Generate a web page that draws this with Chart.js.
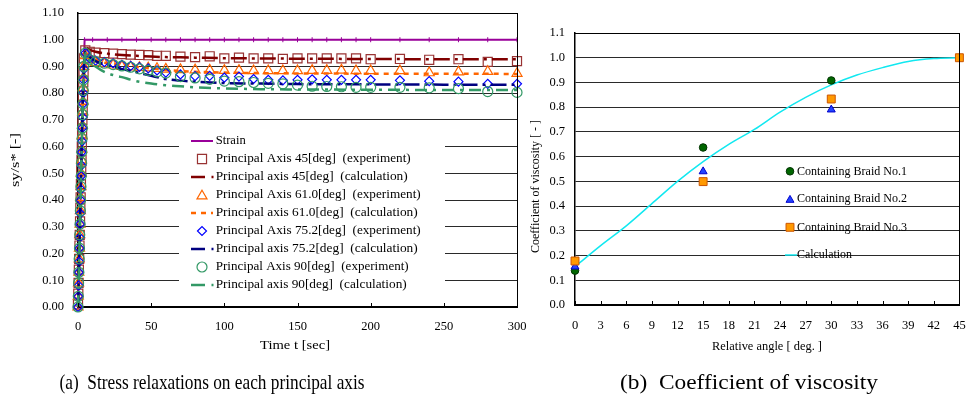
<!DOCTYPE html>
<html><head><meta charset="utf-8">
<script src="https://cdn.jsdelivr.net/npm/chart.js@4/dist/chart.umd.min.js"></script>
<style>
html,body{margin:0;padding:0;background:#fff;width:966px;height:396px;overflow:hidden;}
#c1{position:absolute;left:0;top:0;}
#c2{position:absolute;left:520px;top:0;}
</style></head><body>
<canvas id="c1" width="540" height="396"></canvas>
<canvas id="c2" width="446" height="396"></canvas>
<script>
// ---------------- (a) Stress relaxation data ----------------
const xTicksA = [0, 50, 100, 150, 200, 250, 300];
const strainT = [0, 4.5, 10, 20, 30, 40, 50, 60, 70, 80, 90, 100, 110, 120, 130, 140, 150, 160, 170, 180, 190, 200, 220, 240, 260, 280, 300];
const strainV = [0, 1, 1, 1, 1, 1, 1, 1, 1, 1, 1, 1, 1, 1, 1, 1, 1, 1, 1, 1, 1, 1, 1, 1, 1, 1, 1];

const expT = [0, 0.2, 0.4, 0.6, 0.8, 1.0, 1.2, 1.4, 1.6, 1.8, 2.0, 2.2, 2.4, 2.6, 2.8, 3.0, 3.2, 3.4, 3.6, 3.8, 4.0,
              5, 8, 12, 18, 24, 30, 36, 42, 48, 54, 60, 70, 80, 90, 100, 110, 120, 130, 140, 150, 160, 170, 180, 190, 200, 220, 240, 260, 280, 300];
const exp45 = [0.01, 0.05, 0.09, 0.14, 0.18, 0.23, 0.27, 0.32, 0.37, 0.41, 0.46, 0.51, 0.55, 0.60, 0.65, 0.70, 0.74, 0.79, 0.84, 0.88, 0.93,
               0.96, 0.955, 0.952, 0.95, 0.948, 0.946, 0.944, 0.943, 0.942, 0.94, 0.94, 0.937, 0.935, 0.938, 0.93, 0.933, 0.93, 0.93, 0.928, 0.93, 0.93, 0.93, 0.93, 0.93, 0.927, 0.928, 0.925, 0.927, 0.917, 0.92];
const exp61 = [0.0, 0.04, 0.09, 0.13, 0.18, 0.22, 0.27, 0.31, 0.36, 0.41, 0.45, 0.50, 0.55, 0.59, 0.64, 0.68, 0.73, 0.77, 0.82, 0.86, 0.90,
               0.94, 0.925, 0.915, 0.91, 0.905, 0.90, 0.898, 0.896, 0.894, 0.892, 0.89, 0.888, 0.887, 0.886, 0.885, 0.885, 0.884, 0.884, 0.884, 0.884, 0.885, 0.885, 0.886, 0.884, 0.884, 0.884, 0.876, 0.879, 0.881, 0.874];
const exp75 = [0.0, 0.04, 0.08, 0.13, 0.17, 0.22, 0.26, 0.31, 0.35, 0.40, 0.44, 0.49, 0.53, 0.58, 0.62, 0.67, 0.71, 0.76, 0.80, 0.85, 0.89,
               0.95, 0.93, 0.922, 0.916, 0.912, 0.906, 0.902, 0.898, 0.893, 0.885, 0.877, 0.87, 0.864, 0.865, 0.858, 0.862, 0.853, 0.85, 0.848, 0.85, 0.852, 0.85, 0.85, 0.85, 0.85, 0.848, 0.845, 0.843, 0.835, 0.835];
const exp90 = [0.0, 0.04, 0.09, 0.13, 0.18, 0.22, 0.27, 0.31, 0.36, 0.40, 0.45, 0.49, 0.54, 0.58, 0.63, 0.67, 0.72, 0.76, 0.81, 0.85, 0.90,
               0.95, 0.925, 0.918, 0.912, 0.907, 0.902, 0.897, 0.891, 0.885, 0.88, 0.875, 0.862, 0.857, 0.852, 0.845, 0.843, 0.84, 0.837, 0.835, 0.83, 0.826, 0.825, 0.824, 0.822, 0.822, 0.822, 0.82, 0.817, 0.806, 0.803];

const calcT = [0, 5, 8, 12, 20, 30, 40, 50, 60, 70, 80, 100, 125, 150, 200, 250, 300];
const calc45 = [0, 0.97, 0.962, 0.955, 0.948, 0.943, 0.94, 0.937, 0.935, 0.934, 0.933, 0.931, 0.93, 0.929, 0.928, 0.927, 0.927];
const calc61 = [0, 0.96, 0.94, 0.925, 0.912, 0.905, 0.898, 0.892, 0.887, 0.883, 0.88, 0.877, 0.875, 0.874, 0.873, 0.873, 0.872];
const calc75 = [0, 0.955, 0.935, 0.92, 0.905, 0.89, 0.878, 0.865, 0.853, 0.847, 0.843, 0.838, 0.836, 0.834, 0.833, 0.832, 0.832];
const calc90 = [0, 0.95, 0.92, 0.90, 0.875, 0.86, 0.845, 0.836, 0.83, 0.826, 0.822, 0.818, 0.815, 0.814, 0.813, 0.812, 0.812];

const legendA = ["Strain",
  "Principal Axis 45[deg]  (experiment)", "Principal axis 45[deg]  (calculation)",
  "Principal Axis 61.0[deg]  (experiment)", "Principal axis 61.0[deg]  (calculation)",
  "Principal Axis 75.2[deg]  (experiment)", "Principal axis 75.2[deg]  (calculation)",
  "Principal Axis 90[deg]  (experiment)", "Principal axis 90[deg]  (calculation)"];

// ---------------- (b) Coefficient of viscosity data ----------------
const angleB1 = [0, 15, 30];
const braid1 = [0.139, 0.637, 0.908];
const angleB2 = [0, 15, 30];
const braid2 = [0.155, 0.54, 0.79];
const angleB3 = [0, 15, 30, 45];
const braid3 = [0.178, 0.499, 0.833, 1.0];
const calcAngle = [0, 3, 6, 9, 12, 15, 18, 21, 24, 27, 30, 33, 36, 39, 42, 45];
const calcVisc = [0.155, 0.24, 0.32, 0.41, 0.50, 0.58, 0.65, 0.71, 0.78, 0.84, 0.89, 0.93, 0.96, 0.985, 0.997, 1.0];
const legendB = ["Containing Braid No.1", "Containing Braid No.2", "Containing Braid No.3", "Calculation"];

// ---------------- helpers ----------------
const SERIF = '"Liberation Serif", "Times New Roman", Times, serif';
Chart.defaults.font.family = SERIF;
Chart.defaults.color = '#000';
const pts = (xs, ys) => xs.map((x, i) => ({x: x, y: ys[i]}));

function txt(ctx, s, x, y, o) {
  ctx.save();
  ctx.font = (o.size || 12) + 'px ' + SERIF;
  ctx.fillStyle = o.color || '#000';
  ctx.textBaseline = o.baseline || 'middle';
  ctx.textAlign = 'left';
  ctx.translate(x, y);
  if (o.rot) ctx.rotate(o.rot);
  const w = ctx.measureText(s).width;
  const sx = o.width ? o.width / w : 1;
  ctx.scale(sx, 1);
  const a = o.align || 'center';
  const dx = a === 'center' ? -w / 2 : (a === 'right' ? -w : 0);
  ctx.fillText(s, dx, 0);
  ctx.restore();
}
function marker(ctx, style, r, x, y, stroke, fill, bw, rot) {
  ctx.save();
  ctx.strokeStyle = stroke; ctx.fillStyle = fill || 'rgba(0,0,0,0)'; ctx.lineWidth = bw;
  Chart.helpers.drawPoint(ctx, {pointStyle: style, radius: r, rotation: rot || 0, borderWidth: bw}, x, y);
  ctx.restore();
}
function seg(ctx, x1, x2, y, color, w, dash) {
  ctx.save(); ctx.strokeStyle = color; ctx.lineWidth = w; ctx.setLineDash(dash || []);
  ctx.beginPath(); ctx.moveTo(x1, y); ctx.lineTo(x2, y); ctx.stroke(); ctx.restore();
}
function tickMarks(chart, len) {
  const ctx = chart.ctx, xs = chart.scales.x, a = chart.chartArea;
  ctx.save(); ctx.strokeStyle = '#000'; ctx.lineWidth = 1;
  xs.ticks.forEach(t => {
    const px = Math.round(xs.getPixelForValue(t.value)) + 0.5;
    ctx.beginPath(); ctx.moveTo(px, a.bottom); ctx.lineTo(px, a.bottom - len); ctx.stroke();
  });
  ctx.restore();
}
function frame(chart) {
  const ctx = chart.ctx, a = chart.chartArea;
  ctx.save(); ctx.strokeStyle = '#000'; ctx.lineWidth = 1;
  ctx.beginPath();
  ctx.moveTo(a.left, Math.round(a.top) + 0.5); ctx.lineTo(a.right, Math.round(a.top) + 0.5);
  ctx.moveTo(Math.round(a.right) + 0.5, a.top); ctx.lineTo(Math.round(a.right) + 0.5, a.bottom);
  ctx.stroke(); ctx.restore();
}

const C = {strain: '#990099', sq: '#993333', c45: '#800000', tri: '#FF6600', c61: '#FF6600',
           dia: '#0000FF', c75: '#000080', cir: '#339966', c90: '#339966'};
const dashDot = [16, 5, 3, 5];

// ---------------- chart (a) ----------------
const decorA = {
  id: 'decorA',
  afterDatasetsDraw(chart) {
    const ctx = chart.ctx;
    ctx.save(); ctx.fillStyle = '#fff'; ctx.fillRect(179, 128, 266, 171); ctx.restore();
    const rows = [141, 159, 177, 195, 213, 231, 249, 267, 285];
    const widths = [30, 195, 192, 205, 202, 205, 202, 193, 191];
    const cx = 202;
    seg(ctx, 191, 213, rows[0], C.strain, 2);
    marker(ctx, 'rect', 6.4, cx, rows[1], C.sq, null, 1.2);
    seg(ctx, 191, 205, rows[2], C.c45, 2.5); seg(ctx, 211.5, 213.5, rows[2], C.c45, 2.5);
    marker(ctx, 'triangle', 5.8, cx, rows[3] + 1, C.tri, null, 1.2);
    seg(ctx, 191, 213, rows[4], C.c61, 2.5, [5, 5]);
    marker(ctx, 'rectRot', 4.5, cx, rows[5], C.dia, null, 1.2);
    seg(ctx, 191, 205, rows[6], C.c75, 2.5); seg(ctx, 211.5, 213.5, rows[6], C.c75, 2.5);
    marker(ctx, 'circle', 5, cx, rows[7], C.cir, null, 1.2);
    seg(ctx, 191, 205, rows[8], C.c90, 2.5); seg(ctx, 211.5, 213.5, rows[8], C.c90, 2.5);
    legendA.forEach((s, i) => txt(ctx, s, 215.7, rows[i], {size: 11.5, align: 'left', width: widths[i]}));
  },
  afterDraw(chart) {
    const ctx = chart.ctx;
    frame(chart);
    tickMarks(chart, 4);
    txt(ctx, 'Time t [sec]', 295, 346, {size: 12.5, width: 70});
    txt(ctx, 'sy/s* [-]', 16, 160, {size: 13, rot: -Math.PI / 2, width: 54});
    txt(ctx, '(a)  Stress relaxations on each principal axis', 212, 389, {size: 22, baseline: 'alphabetic', width: 305});
  }
};

const N = 9;
const dsA = [
  {data: pts(strainT, strainV), showLine: true, borderColor: C.strain, borderWidth: 2, pointStyle: 'line', pointRotation: 90, pointRadius: 2.5, pointBorderColor: C.strain, pointBorderWidth: 1},
  {data: pts(expT, exp45), showLine: false, pointStyle: 'rect', pointRadius: 6.4, pointBorderColor: C.sq, pointBackgroundColor: 'rgba(0,0,0,0)', pointBorderWidth: 1.2},
  {data: pts(calcT, calc45), showLine: true, borderColor: C.c45, borderWidth: 2.5, borderDash: dashDot, pointRadius: 0, cubicInterpolationMode: 'monotone'},
  {data: pts(expT, exp61), showLine: false, pointStyle: 'triangle', pointRadius: 5.8, pointBorderColor: C.tri, pointBackgroundColor: 'rgba(0,0,0,0)', pointBorderWidth: 1.2},
  {data: pts(calcT, calc61), showLine: true, borderColor: C.c61, borderWidth: 2.5, borderDash: [5, 5], pointRadius: 0, cubicInterpolationMode: 'monotone'},
  {data: pts(expT, exp75), showLine: false, pointStyle: 'rectRot', pointRadius: 4.5, pointBorderColor: C.dia, pointBackgroundColor: 'rgba(0,0,0,0)', pointBorderWidth: 1.2},
  {data: pts(calcT, calc75), showLine: true, borderColor: C.c75, borderWidth: 2.5, borderDash: dashDot, pointRadius: 0, cubicInterpolationMode: 'monotone'},
  {data: pts(expT, exp90), showLine: false, pointStyle: 'circle', pointRadius: 5, pointBorderColor: C.cir, pointBackgroundColor: 'rgba(0,0,0,0)', pointBorderWidth: 1.2},
  {data: pts(calcT, calc90), showLine: true, borderColor: C.c90, borderWidth: 2.5, borderDash: [12, 6, 3, 6], pointRadius: 0, cubicInterpolationMode: 'monotone'}
].map((d, i) => Object.assign(d, {label: legendA[i], order: N - i, clip: false}));

new Chart(document.getElementById('c1'), {
  type: 'scatter',
  data: {datasets: dsA},
  options: {
    responsive: false, animation: false, events: [],
    layout: {padding: {left: 0, top: 13, right: 23, bottom: 0}},
    plugins: {legend: {display: false}, tooltip: {enabled: false}},
    scales: {
      x: {type: 'linear', min: 0, max: 300,
          afterBuildTicks: s => { s.ticks = xTicksA.map(v => ({value: v})); },
          ticks: {font: {size: 12.5}, padding: 12, maxRotation: 0, autoSkip: false, color: '#000'},
          grid: {display: false, drawTicks: false},
          border: {display: true, color: '#000', width: 2},
          afterFit: s => { s.height = 89; s.paddingLeft = 0; s.paddingRight = 0; }},
      y: {min: 0, max: 1.1,
          ticks: {stepSize: 0.1, font: {size: 12.5}, padding: 14, color: '#000', callback: v => Number(v).toFixed(2)},
          grid: {color: '#2a2a2a', lineWidth: 1, drawTicks: false},
          border: {display: true, color: '#000', width: 1.5},
          afterFit: s => { s.width = 78; s.paddingTop = 0; s.paddingBottom = 0; }}
    }
  },
  plugins: [decorA]
});

// ---------------- chart (b) ----------------
const OX = 520;
const decorB = {
  id: 'decorB',
  afterDraw(chart) {
    const ctx = chart.ctx;
    frame(chart);
    tickMarks(chart, 4);
    const rows = [171.3, 199, 227.3, 255];
    marker(ctx, 'circle', 3.8, 790 - OX, rows[0], '#003300', '#006600', 1);
    marker(ctx, 'triangle', 4.6, 790 - OX, rows[1] + 1, '#0000CC', '#2244FF', 1);
    marker(ctx, 'rect', 5.6, 790 - OX, rows[2], '#CC5500', '#FF9900', 1);
    seg(ctx, 785 - OX, 797 - OX, rows[3], '#11E8F0', 1.5);
    const widths = [110, 110, 110, 55];
    legendB.forEach((s, i) => txt(ctx, s, 797 - OX, rows[i], {size: 13, align: 'left', width: widths[i]}));
    txt(ctx, 'Relative angle [ deg. ]', 767 - OX, 347, {size: 12.5, width: 110});
    txt(ctx, 'Coefficient of viscosity [ - ]', 536 - OX, 186.5, {size: 12.5, rot: -Math.PI / 2, width: 133});
    txt(ctx, '(b)  Coefficient of viscosity', 749 - OX, 389, {size: 22, baseline: 'alphabetic', width: 258});
  }
};

const dsB = [
  {label: legendB[2], data: pts(angleB3, braid3), showLine: false, pointStyle: 'rect', pointRadius: 5.6, pointBorderColor: '#CC5500', pointBackgroundColor: '#FF9900', pointBorderWidth: 1, order: 1},
  {label: legendB[1], data: pts(angleB2, braid2), showLine: false, pointStyle: 'triangle', pointRadius: 4.6, pointBorderColor: '#0000CC', pointBackgroundColor: '#2244FF', pointBorderWidth: 1, order: 2},
  {label: legendB[0], data: pts(angleB1, braid1), showLine: false, pointStyle: 'circle', pointRadius: 3.8, pointBorderColor: '#003300', pointBackgroundColor: '#006600', pointBorderWidth: 1, order: 3},
  {label: legendB[3], data: pts(calcAngle, calcVisc), showLine: true, borderColor: '#11E8F0', borderWidth: 1.5, pointRadius: 0, cubicInterpolationMode: 'monotone', order: 4}
].map(d => Object.assign(d, {clip: false}));

new Chart(document.getElementById('c2'), {
  type: 'scatter',
  data: {datasets: dsB},
  options: {
    responsive: false, animation: false, events: [],
    layout: {padding: {left: 0, top: 33, right: 3, bottom: 0}},
    plugins: {legend: {display: false}, tooltip: {enabled: false}},
    scales: {
      x: {type: 'linear', min: 0, max: 45,
          ticks: {stepSize: 3, font: {size: 12.5}, padding: 13, maxRotation: 0, autoSkip: false, color: '#000'},
          grid: {display: false, drawTicks: false},
          border: {display: true, color: '#000', width: 2},
          afterFit: s => { s.height = 91; s.paddingLeft = 0; s.paddingRight = 0; }},
      y: {min: 0, max: 1.1,
          ticks: {stepSize: 0.1, font: {size: 12.5}, padding: 10, color: '#000', callback: v => Number(v).toFixed(1)},
          grid: {color: '#2a2a2a', lineWidth: 1, drawTicks: false},
          border: {display: true, color: '#000', width: 1.5},
          afterFit: s => { s.width = 55; s.paddingTop = 0; s.paddingBottom = 0; }}
    }
  },
  plugins: [decorB]
});
</script>
</body></html>
